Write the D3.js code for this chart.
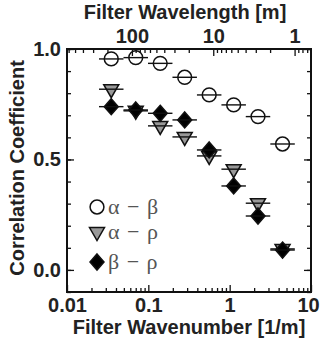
<!DOCTYPE html>
<html>
<head>
<meta charset="utf-8">
<script src="https://d3js.org/d3.v7.min.js"></script>
<style>
  body { margin: 0; background: #fff; }
  text { font-family: "Liberation Sans", Arial, sans-serif; font-weight: bold; fill: #222; }
  .legendText { font-family: "Liberation Serif", "Times New Roman", serif; font-weight: normal; fill: #555; }
</style>
</head>
<body>
<script>

// filter wavenumbers [1/m] (centre of every band)
var wavenumber = [0.035, 0.07, 0.14, 0.28, 0.56, 1.12, 2.23, 4.47];

// correlation coefficients of every pair
var alphaBeta = [0.955, 0.961, 0.935, 0.872, 0.792, 0.747, 0.694, 0.570];
var alphaRho  = [0.818, 0.720, 0.652, 0.602, 0.516, 0.456, 0.302, 0.095];
var betaRho   = [0.739, 0.724, 0.709, 0.679, 0.543, 0.380, 0.244, 0.090];

// legend names
var seriesNames = ["\u03b1 \u2212 \u03b2", "\u03b1 \u2212 \u03c1", "\u03b2 \u2212 \u03c1"];

// tick labels
var bottomTicks = [0.01, 0.1, 1, 10];
var topTicks = [100, 10, 1];
var yTicks = [0.0, 0.5, 1.0];

window.onload = function () {

  var width = 321;
  var height = 347;
  var left = 67, right = 311, top = 49, bottom = 292;

  var svg = d3.select("body")
              .append("svg")
              .attr("width", width)
              .attr("height", height);

  // wavenumber scale at the bottom
  var xScale = d3.scaleLog()
                 .domain([0.01, 10])
                 .range([left, right]);

  // wavelength scale on top, wavelength = 2 pi / wavenumber
  var lScale = d3.scaleLog()
                 .domain([2 * Math.PI / 0.01, 2 * Math.PI / 10])
                 .range([left, right]);

  var yScale = d3.scaleLinear()
                 .domain([-0.1, 1.0])
                 .range([bottom, top]);

  // minor ticks, every 1..9 of a decade
  var minorK = [];
  for (var e = -2; e < 1; e++) {
    for (var m = 2; m < 10; m++) minorK.push(m * Math.pow(10, e));
  }
  var minorL = [];
  for (var e = -1; e < 3; e++) {
    for (var m = 2; m < 10; m++) {
      var v = m * Math.pow(10, e);
      if (v < lScale.domain()[0] && v > lScale.domain()[1]) minorL.push(v);
    }
  }
  var minorY = d3.range(-1, 11).map(function(d) { return d / 10; });

  function styleAxis(g) {
    g.select(".domain").remove();
    g.selectAll("line").attr("stroke", "#111").attr("stroke-width", 1.3);
    g.selectAll("text").style("font-size", "20px").attr("fill", "#222");
  }

  // bottom axis
  svg.append("g")
     .attr("transform", "translate(0," + bottom + ")")
     .call(d3.axisBottom(xScale).tickValues(minorK).tickFormat("").tickSize(-4))
     .call(styleAxis);
  var bottomAxis = svg.append("g")
     .attr("transform", "translate(0," + bottom + ")")
     .call(d3.axisBottom(xScale).tickValues(bottomTicks)
             .tickFormat(function(d) { return d < 1 ? String(d) : d3.format("d")(d); })
             .tickSizeInner(-7).tickSizeOuter(0).tickPadding(6))
     .call(styleAxis);
  // keep the last label inside the picture
  bottomAxis.selectAll("text")
     .filter(function(d) { return d === 10; })
     .attr("dx", -3);

  // top axis
  svg.append("g")
     .attr("transform", "translate(0," + top + ")")
     .call(d3.axisTop(lScale).tickValues(minorL).tickFormat("").tickSize(-4))
     .call(styleAxis);
  svg.append("g")
     .attr("transform", "translate(0," + top + ")")
     .call(d3.axisTop(lScale).tickValues(topTicks).tickFormat(d3.format("d"))
             .tickSizeInner(-7).tickSizeOuter(0).tickPadding(6))
     .call(styleAxis);

  // left and right axes
  svg.append("g")
     .attr("transform", "translate(" + left + ",0)")
     .call(d3.axisLeft(yScale).tickValues(minorY).tickFormat("").tickSize(-4))
     .call(styleAxis);
  svg.append("g")
     .attr("transform", "translate(" + left + ",0)")
     .call(d3.axisLeft(yScale).tickValues(yTicks).tickFormat(d3.format(".1f"))
             .tickSizeInner(-7).tickSizeOuter(0).tickPadding(6))
     .call(styleAxis);
  svg.append("g")
     .attr("transform", "translate(" + right + ",0)")
     .call(d3.axisRight(yScale).tickValues(minorY).tickFormat("").tickSize(-4))
     .call(styleAxis);
  svg.append("g")
     .attr("transform", "translate(" + right + ",0)")
     .call(d3.axisRight(yScale).tickValues(yTicks).tickFormat("")
             .tickSizeInner(-7).tickSizeOuter(0))
     .call(styleAxis);

  // frame
  svg.append("rect")
     .attr("x", left).attr("y", top)
     .attr("width", right - left).attr("height", bottom - top)
     .attr("fill", "none").attr("stroke", "#111").attr("stroke-width", 2);

  // marker shapes
  var circleSym = d3.symbol().type(d3.symbolCircle).size(150);
  var diamondPath = "M0,-8L7,0L0,8L-7,0Z";
  var trianglePath = "M-7.5,-4.5L7.5,-4.5L0,8.5Z";

  function drawSeries(values, path, fill) {
    var g = svg.append("g");
    g.selectAll("path")
     .data(values)
     .enter()
     .append("path")
     .attr("transform", function(d, i) {
       return "translate(" + xScale(wavenumber[i]) + "," + yScale(d) + ")";
     })
     .attr("d", path)
     .attr("fill", fill)
     .attr("stroke", "#111")
     .attr("stroke-width", 1.5);

    // band of the filter as horizontal bar
    g.selectAll("line")
     .data(values)
     .enter()
     .append("line")
     .attr("x1", function(d, i) { return xScale(wavenumber[i] / Math.SQRT2); })
     .attr("x2", function(d, i) { return xScale(wavenumber[i] * Math.SQRT2); })
     .attr("y1", function(d) { return yScale(d); })
     .attr("y2", function(d) { return yScale(d); })
     .attr("stroke", "#111")
     .attr("stroke-width", 1.4);
  }

  drawSeries(alphaBeta, circleSym(), "none");
  drawSeries(alphaRho, trianglePath, "#999");
  drawSeries(betaRho, diamondPath, "#000");

  // legend
  var legendY = [207, 232, 262];
  var legendShapes = [[circleSym(), "#fff"], [trianglePath, "#999"], [diamondPath, "#000"]];
  legendY.forEach(function(y, i) {
    svg.append("path")
       .attr("transform", "translate(97," + y + ")")
       .attr("d", legendShapes[i][0])
       .attr("fill", legendShapes[i][1])
       .attr("stroke", "#111")
       .attr("stroke-width", 1.5);
    svg.append("text")
       .attr("class", "legendText")
       .attr("x", 108)
       .attr("y", y + 7)
       .style("font-size", "22px")
       .style("letter-spacing", "1px")
       .text(seriesNames[i]);
  });

  // axis titles
  svg.append("text")
     .attr("text-anchor", "middle")
     .attr("x", 185)
     .attr("y", 19)
     .style("font-size", "20px")
     .text("Filter Wavelength [m]");

  svg.append("text")
     .attr("text-anchor", "middle")
     .attr("x", 189)
     .attr("y", 334)
     .style("font-size", "20px")
     .text("Filter Wavenumber [1/m]");

  svg.append("text")
     .attr("text-anchor", "middle")
     .attr("transform", "translate(24," + 168 + ")rotate(-90)")
     .style("font-size", "20px")
     .text("Correlation Coefficient");
};
</script>
</body>
</html>
